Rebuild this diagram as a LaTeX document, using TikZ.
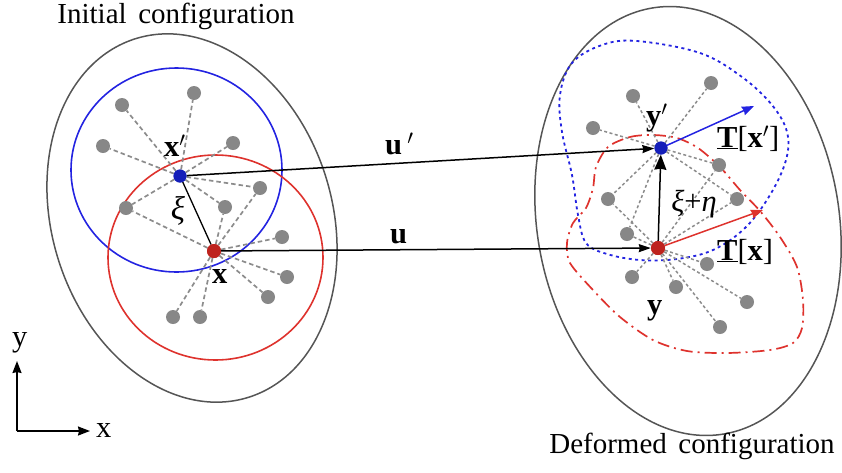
\documentclass[tikz,border=0pt]{standalone}
\usepackage{fontspec}
\setmainfont{Liberation Serif}
\usetikzlibrary{arrows.meta}
\definecolor{myblue}{RGB}{35,35,225}
\definecolor{dotblue}{RGB}{20,30,185}
\definecolor{myred}{RGB}{222,50,45}
\definecolor{dotred}{RGB}{190,35,30}
\definecolor{dotgray}{RGB}{135,135,135}
\definecolor{edgegray}{RGB}{85,85,85}
\definecolor{dashgray}{RGB}{140,140,140}
\begin{document}
\begin{tikzpicture}[x=1pt,y=-1pt,
  gdot/.style={circle,fill=dotgray,inner sep=0pt,minimum size=14pt},
  bdot/.style={circle,fill=dotblue,inner sep=0pt,minimum size=13pt},
  rdot/.style={circle,fill=dotred,inner sep=0pt,minimum size=14pt},
  bondl/.style={dashgray,line width=1.7pt,dash pattern=on 4.5pt off 3pt},
  bondr/.style={dashgray,line width=1.5pt,dash pattern=on 3pt off 2.5pt},
  body/.style={edgegray,line width=1.5pt},
  lab/.style={font=\fontsize{30.5}{36}\selectfont,inner sep=0pt},
  greek/.style={font=\fontsize{33}{38}\selectfont,inner sep=0pt},
  title/.style={font=\fontsize{29}{34}\selectfont,inner sep=0pt},
  disp/.style={black,line width=1.5pt,-{Stealth[length=12pt,width=8pt,inset=1pt]}},
  trac/.style={line width=1.5pt,-{Stealth[length=12pt,width=9pt,inset=1pt]}},
  axis/.style={black,line width=1.5pt,-{Stealth[length=12pt,width=9pt,inset=1pt]}}]
\useasboundingbox (0,0) rectangle (842,472);

% bodies
\draw[body,rotate around={17.6:(192,218)}] (192,218) ellipse [x radius=140, y radius=188];
\draw[body,rotate around={9.6:(688,221)}] (688,221) ellipse [x radius=151, y radius=216];

% horizons (initial)
\draw[myblue,line width=1.6pt] (176.5,170) ellipse [x radius=105.5, y radius=102];
\draw[myred,line width=1.6pt] (215.5,257.5) ellipse [x radius=107.5, y radius=102.5];

% horizons (deformed)
\draw[myblue,line width=1.8pt,dash pattern=on 3pt off 3.5pt] plot[smooth cycle,tension=0.6] coordinates {(637,41) (700,53) (742,77) (772,105) (787,132) (786,160) (770,195) (745,228) (713,250) (677,259) (640,260) (607,254) (586,243) (578,215) (572,175) (562,132) (560,95) (572,63) (602,45)};
\draw[myred,line width=1.7pt,dash pattern=on 12pt off 5pt on 2pt off 5pt] plot[smooth cycle,tension=0.5] coordinates {(608,147) (630,137) (653,135) (677,138) (698,148) (720,167) (740,190) (760,211) (780,237) (797,267) (803,300) (802,328) (793,343) (770,350) (727,353) (687,351) (653,340) (620,317) (593,290) (570,263) (567,243) (573,223) (586,208) (593,188) (596,167)};

% material points (initial)
\node[bdot] (xp) at (180,176) {};
\node[rdot] (x) at (214,251) {};
\foreach \n/\p in {1/{194,93},2/{122,105},3/{233,143},4/{103,146},5/{260,188},6/{126,208},7/{225,207},8/{282,237},9/{287,277},10/{268,297},11/{173,317},12/{200,317}}
  \node[gdot] (L\n) at (\p) {};
\foreach \n in {1,...,7} \draw[bondl] (xp) -- (L\n);
\foreach \n in {5,...,12} \draw[bondl] (x) -- (L\n);

% material points (deformed)
\node[bdot] (yp) at (661,148) {};
\node[rdot] (y) at (658,248) {};
\foreach \n/\p in {1/{711,83},2/{633,96},3/{593,128},4/{719,165},5/{737,199},6/{608,199},7/{627,234},8/{632,277},9/{676,287},10/{707,264},11/{747,302},12/{720,327}}
  \node[gdot] (R\n) at (\p) {};
\foreach \n in {1,...,7} \draw[bondr] (yp) -- (R\n);
\foreach \n in {4,...,12} \draw[bondr] (y) -- (R\n);

% bond vector xi
\draw[black,line width=1.3pt] (xp) -- (x);
% deformed bond
\draw[black,line width=1.5pt,-{Stealth[length=15pt,width=12pt,inset=1pt]}] (y) -- (yp);

% displacements
\draw[disp] (xp) -- (yp);
\draw[disp] (x) -- (y);

% force states
\coordinate (tb) at (754,106);
\coordinate (tr) at (763,210);
\draw[trac,myblue] (yp) -- (tb);
\draw[trac,myred] (y) -- (tr);

% center dots on top
\fill[dotblue] (xp) circle[radius=6.5];
\fill[dotred] (x) circle[radius=7];
\fill[dotblue] (yp) circle[radius=6.5];
\fill[dotred] (y) circle[radius=7];

% labels
\node[title,anchor=base] (t1) at (176,23) {Initial\hspace{0.4em}configuration};
\node[title,anchor=base] (t2) at (692,453) {Deformed\hspace{0.4em}configuration};
\node[lab,anchor=base west] (lxp) at (164,156) {\textbf{x}$'$};
\node[lab,anchor=base west] (lx) at (212,283) {\textbf{x}};
\node[greek] (lxi) at (178,211) {\textit{ξ}};
\node[lab,anchor=base west] (lup) at (385,154) {\textbf{u}\,$'$};
\node[lab,anchor=base west] (lu) at (390,243) {\textbf{u}};
\node[lab,anchor=base west] (lyp) at (646,125) {\textbf{y}$'$};
\node[lab,anchor=base west] (ly) at (647,314) {\textbf{y}};
\node[lab] (lxe) at (694,204) {\textit{ξ}+\textit{η}};
\node[lab,anchor=base west] (ltp) at (717,147) {\underline{\textbf{T}}[\textbf{x}$'$]};
\node[lab,anchor=base west] (lt) at (717,260) {\underline{\textbf{T}}[\textbf{x}]};

% axes
\coordinate (o) at (17,431);
\coordinate (ay) at (17,361);
\coordinate (ax) at (90,431);
\draw[axis] (o) -- (ay);
\draw[axis] (o) -- (ax);
\node[lab,anchor=base west] (laxy) at (12,346) {y};
\node[lab,anchor=base west] (laxx) at (96,437) {x};
\end{tikzpicture}
\end{document}
